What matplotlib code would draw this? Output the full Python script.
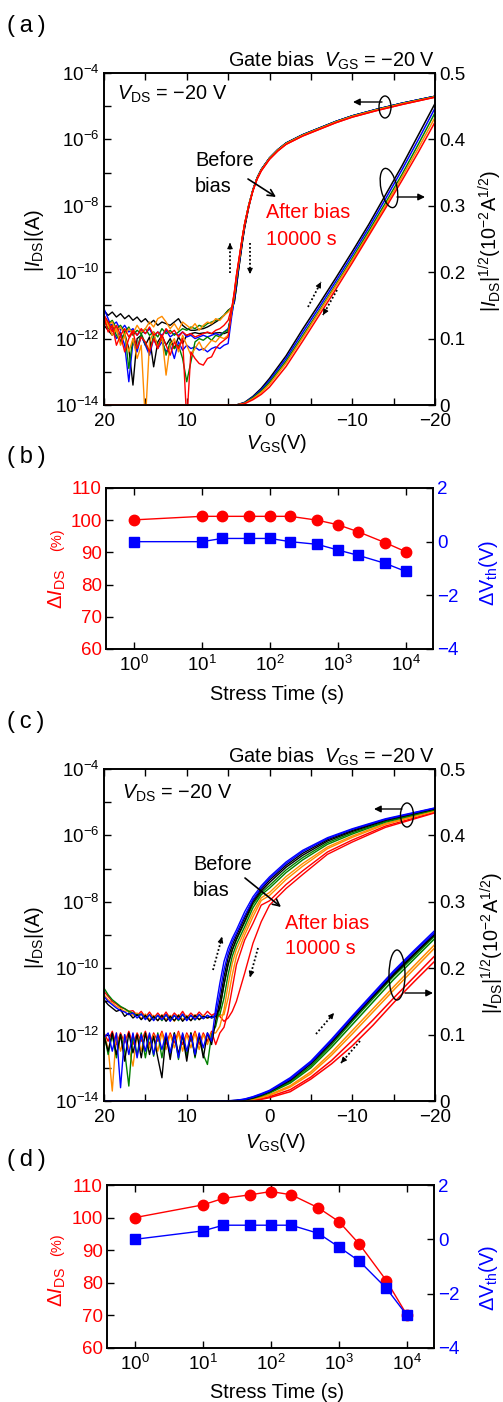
import numpy as np
import matplotlib
matplotlib.use("Agg")
import matplotlib.pyplot as plt
from matplotlib.patches import Ellipse, FancyArrowPatch
from matplotlib.lines import Line2D
from matplotlib.ticker import FixedLocator, NullFormatter, NullLocator, FuncFormatter

plt.rcParams["font.family"] = ["Liberation Sans", "DejaVu Sans"]
plt.rcParams["mathtext.fontset"] = "custom"
plt.rcParams["mathtext.rm"] = "Liberation Sans"
plt.rcParams["mathtext.it"] = "Liberation Sans:italic"
plt.rcParams["mathtext.bf"] = "Liberation Sans:bold"

# ---------------- panel (a): log10 |I_DS| ----------------
vgs_off_a = np.arange(20, 4.9, -0.5)          # 20 ... 5 V, off-state noise
vgs_on_a = [4.5, 4.25, 4, 3.75, 3.5, 3.25, 3, 2.5, 2, 1.5, 1, 0, -1, -2, -4, -6, -8, -10, -13, -16, -20]
vgs_sq_a = [20, 4, 3, 2, 1, 0, -2, -4, -6, -8, -10, -12, -14, -16, -18, -20]

a_off_black_r = [-11.15, -11.3, -11.2, -11.35, -11.25, -11.4, -11.3, -11.45, -11.35, -11.5, -11.4, -11.55, -11.45, -11.6, -11.5, -11.55, -11.6, -11.5, -11.4, -11.6, -11.7, -11.75, -11.75, -11.72, -11.7, -11.65, -11.58, -11.5, -11.42, -11.3, -11.15]
a_off_black_f = [-11.6, -11.75, -11.9, -11.7, -12.1, -11.85, -12.3, -13.4, -12.0, -11.9, -12.2, -11.95, -12.85, -12.1, -11.9, -12.2, -12.0, -12.3, -11.95, -12.15, -11.9, -11.85, -11.82, -11.85, -11.83, -11.82, -11.85, -11.83, -11.82, -11.85, -11.8]
a_off_blue_f = [-11.1, -11.4, -11.7, -12.0, -11.8, -12.2, -13.3, -12.1, -12.4, -11.9, -12.2, -12.5, -12.0, -12.3, -12.1, -12.4, -12.2, -12.6, -12.1, -12.35, -12.2, -12.3, -12.25, -12.35, -12.3, -12.4, -12.3, -12.25, -12.3, -12.2, -12.15]
a_off_blue_r = [-11.3, -11.5, -11.6, -11.5, -11.75, -11.6, -11.8, -11.7, -11.9, -11.75, -11.85, -11.7, -11.95, -11.8, -11.9, -11.75, -11.95, -11.85, -11.9, -11.8, -11.95, -11.9, -12.0, -11.95, -11.9, -11.95, -11.9, -11.85, -11.9, -11.8, -11.7]
a_off_green_f = [-11.45, -11.7, -11.6, -11.9, -12.1, -11.8, -12.9, -12.0, -12.3, -11.85, -12.15, -12.4, -11.9, -12.2, -12.0, -12.5, -12.1, -12.3, -12.2, -12.6, -13.3, -12.7, -12.1, -12.0, -12.05, -11.95, -12.05, -11.9, -11.95, -11.8, -11.75]
a_off_green_r = [-11.35, -11.55, -11.45, -11.7, -11.6, -11.8, -11.65, -11.9, -11.75, -11.85, -11.7, -11.9, -11.8, -11.95, -11.7, -11.85, -11.75, -11.9, -11.8, -11.7, -11.75, -11.65, -11.7, -11.6, -11.65, -11.55, -11.5, -11.45, -11.4, -11.3, -11.15]
a_off_orange_f = [-11.3, -11.6, -11.9, -11.7, -12.2, -11.9, -12.4, -12.0, -12.6, -12.2, -14.5, -12.1, -11.8, -12.3, -11.9, -13.1, -12.2, -12.0, -12.4, -11.9, -12.2, -12.5, -12.3, -12.1, -12.35, -12.2, -12.05, -12.1, -11.95, -12.0, -11.9]
a_off_orange_r = [-11.4, -11.6, -11.5, -11.8, -11.65, -11.9, -11.7, -11.85, -11.6, -11.8, -11.7, -11.5, -11.65, -11.4, -11.33, -11.5, -11.7, -11.55, -11.75, -11.5, -11.6, -11.7, -11.55, -11.75, -11.6, -11.5, -11.55, -11.4, -11.45, -11.3, -11.2]
a_off_red_f = [-11.35, -11.8, -11.6, -12.2, -11.9, -12.4, -12.0, -11.8, -12.3, -11.95, -12.1, -12.4, -12.0, -12.3, -11.9, -12.2, -12.5, -12.1, -12.3, -12.0, -14.5, -12.4, -12.6, -12.75, -12.8, -12.6, -12.55, -12.3, -12.15, -12.05, -11.95]
a_off_red_r = [-11.3, -11.5, -11.8, -11.6, -11.9, -11.7, -11.95, -11.75, -11.9, -11.7, -11.85, -11.65, -11.9, -11.8, -11.95, -11.7, -11.85, -11.75, -11.95, -11.8, -11.9, -11.85, -11.95, -11.9, -11.85, -11.8, -11.85, -11.75, -11.7, -11.6, -11.45]

a_on_black = [-11.05, -10.9, -10.45, -9.95, -9.5, -9.05, -8.65, -8.03, -7.52, -7.16, -6.91, -6.56, -6.31, -6.11, -5.86, -5.66, -5.46, -5.29, -5.09, -4.91, -4.7]
a_on_blue = [-11.2, -10.8, -10.3, -9.85, -9.4, -8.95, -8.56, -7.97, -7.51, -7.16, -6.91, -6.56, -6.31, -6.11, -5.86, -5.66, -5.46, -5.29, -5.09, -4.91, -4.7]
a_on_green = [-11.1, -10.7, -10.2, -9.78, -9.35, -8.92, -8.54, -7.97, -7.52, -7.17, -6.92, -6.57, -6.32, -6.12, -5.87, -5.67, -5.47, -5.3, -5.1, -4.92, -4.71]
a_on_orange = [-11.05, -10.65, -10.15, -9.75, -9.32, -8.9, -8.54, -7.98, -7.53, -7.18, -6.93, -6.58, -6.33, -6.13, -5.88, -5.68, -5.48, -5.31, -5.11, -4.93, -4.72]
a_on_red = [-11.0, -10.6, -10.1, -9.7, -9.3, -8.9, -8.55, -8.0, -7.55, -7.2, -6.95, -6.6, -6.35, -6.15, -5.9, -5.7, -5.5, -5.33, -5.13, -4.95, -4.73]

# |I_DS|^(1/2) in 1e-2 A^(1/2)
a_sq_black = [0, 0, 0.004, 0.013, 0.025, 0.04, 0.074, 0.114, 0.152, 0.191, 0.231, 0.272, 0.316, 0.36, 0.407, 0.454]
a_sq_blue = [0, 0, 0.0035, 0.012, 0.023, 0.037, 0.07, 0.109, 0.147, 0.186, 0.226, 0.267, 0.31, 0.354, 0.4, 0.447]
a_sq_green = [0, 0, 0.003, 0.011, 0.021, 0.034, 0.066, 0.104, 0.142, 0.181, 0.221, 0.262, 0.304, 0.347, 0.393, 0.44]
a_sq_orange = [0, 0, 0.0025, 0.0095, 0.019, 0.031, 0.063, 0.101, 0.14, 0.179, 0.218, 0.258, 0.3, 0.343, 0.387, 0.433]
a_sq_red = [0, 0, 0.002, 0.008, 0.016, 0.027, 0.058, 0.096, 0.135, 0.174, 0.214, 0.255, 0.296, 0.338, 0.381, 0.426]

# ---------------- panel (c) ----------------
vgs_off_c = np.arange(20, 6.9, -0.5)          # 20 ... 7 V
vgs_on_c = [6.5, 6, 5.5, 5, 4.5, 4, 3, 2, 1, 0, -2, -4, -7, -10, -14, -20]
vgs_sq_c = [20, 6, 5, 4, 3, 2, 1, 0, -2.5, -5, -7.5, -10, -12.5, -15, -17.5, -20]

c_off_blue_f = [-12.1, -11.95, -12.5, -11.95, -13.6, -12.0, -12.6, -11.95, -12.7, -12.0, -12.5, -11.95, -12.6, -12.0, -12.45, -11.95, -12.55, -12.0, -12.7, -11.95, -12.5, -12.0, -12.6, -11.95, -12.4, -11.95, -12.2]
c_off_orange_f = [-12.0, -12.4, -13.7, -11.95, -12.5, -12.0, -12.4, -12.95, -12.0, -12.5, -11.95, -12.4, -12.0, -12.5, -11.95, -12.45, -12.0, -12.4, -11.95, -12.5, -12.0, -12.4, -11.95, -12.45, -12.0, -12.3, -11.95]
c_off_green_f = [-11.95, -12.6, -12.0, -12.7, -12.0, -12.5, -13.55, -12.0, -12.6, -11.95, -12.7, -12.0, -12.65, -11.95, -12.7, -12.0, -12.6, -11.95, -12.75, -12.0, -12.65, -11.95, -12.7, -12.0, -12.6, -12.9, -12.0]
c_off_black_f = [-12.05, -12.5, -11.95, -12.6, -12.0, -12.8, -11.95, -12.55, -12.0, -12.7, -11.95, -12.6, -12.05, -12.7, -13.3, -12.0, -12.75, -11.95, -12.6, -12.0, -12.8, -11.95, -12.65, -12.0, -12.7, -11.95, -12.3]
c_off_red_f = [-11.95, -12.2, -11.9, -12.3, -11.95, -12.25, -11.9, -12.3, -11.95, -12.2, -11.9, -12.3, -11.95, -12.2, -11.9, -12.3, -11.95, -12.25, -11.9, -12.3, -11.95, -12.2, -11.9, -12.3, -11.95, -12.2, -11.9]
c_off_blue_r = [-10.85, -11.0, -11.1, -11.2, -11.28, -11.32, -11.4, -11.35, -11.5, -11.38, -11.55, -11.4, -11.58, -11.42, -11.55, -11.4, -11.6, -11.42, -11.55, -11.38, -11.58, -11.42, -11.55, -11.4, -11.52, -11.42, -11.5]
c_off_black_r = [-10.95, -11.1, -11.2, -11.3, -11.25, -11.45, -11.35, -11.5, -11.4, -11.55, -11.42, -11.6, -11.45, -11.58, -11.42, -11.6, -11.45, -11.58, -11.42, -11.6, -11.45, -11.58, -11.42, -11.55, -11.45, -11.5, -11.45]
c_off_green_r = [-10.6, -10.8, -10.95, -11.05, -11.15, -11.22, -11.3, -11.35, -11.42, -11.38, -11.52, -11.4, -11.55, -11.42, -11.58, -11.4, -11.55, -11.42, -11.58, -11.4, -11.55, -11.42, -11.56, -11.4, -11.52, -11.42, -11.5]
c_off_orange_r = [-10.8, -10.95, -11.05, -11.15, -11.22, -11.3, -11.28, -11.42, -11.35, -11.52, -11.38, -11.55, -11.42, -11.58, -11.4, -11.55, -11.42, -11.6, -11.4, -11.55, -11.42, -11.58, -11.4, -11.55, -11.42, -11.5, -11.45]
c_off_red_r = [-10.7, -10.85, -11.0, -11.08, -11.18, -11.22, -11.3, -11.28, -11.42, -11.3, -11.48, -11.32, -11.5, -11.35, -11.5, -11.32, -11.52, -11.35, -11.48, -11.3, -11.5, -11.35, -11.48, -11.32, -11.45, -11.3, -11.42]

c_on_blue_f = [-11.2, -10.45, -9.8, -9.4, -9.1, -8.85, -8.3, -7.85, -7.52, -7.25, -6.8, -6.45, -6.07, -5.8, -5.5, -5.17]
c_on_blue_r = [-11.4, -10.75, -10.05, -9.55, -9.2, -8.95, -8.42, -7.93, -7.58, -7.3, -6.85, -6.49, -6.1, -5.82, -5.52, -5.18]
c_on_black_f = [-11.58, -10.98, -10.26, -9.68, -9.31, -9.02, -8.48, -7.96, -7.62, -7.35, -6.9, -6.54, -6.13, -5.85, -5.53, -5.19]
c_on_black_r = [-11.45, -11.2, -10.5, -9.9, -9.45, -9.12, -8.58, -8.02, -7.68, -7.42, -6.96, -6.6, -6.17, -5.88, -5.55, -5.2]
c_on_green_f = [-11.75, -11.2, -10.5, -9.85, -9.45, -9.15, -8.62, -8.08, -7.73, -7.51, -7.04, -6.67, -6.22, -5.92, -5.58, -5.22]
c_on_green_r = [-11.45, -11.4, -10.9, -10.19, -9.64, -9.28, -8.75, -8.18, -7.79, -7.59, -7.12, -6.74, -6.27, -5.96, -5.6, -5.23]
c_on_orange_f = [-11.95, -11.75, -11.25, -10.5, -9.85, -9.43, -8.87, -8.32, -7.88, -7.72, -7.24, -6.85, -6.35, -6.02, -5.64, -5.25]
c_on_orange_r = [-11.5, -11.42, -11.4, -10.9, -10.2, -9.64, -9.0, -8.45, -7.96, -7.81, -7.33, -6.93, -6.4, -6.06, -5.67, -5.27]
c_on_red_f = [-12.3, -11.95, -11.78, -11.3, -10.6, -9.9, -9.15, -8.65, -8.1, -7.97, -7.48, -7.07, -6.5, -6.14, -5.72, -5.3]
c_on_red_r = [-11.35, -11.45, -11.6, -11.5, -11.3, -11.0, -10.15, -9.25, -8.6, -8.1, -7.6, -7.18, -6.57, -6.2, -5.76, -5.32]

c_sq_blue_f = [0, 0, 0.0003, 0.001, 0.003, 0.0065, 0.011, 0.016, 0.035, 0.06, 0.093, 0.128, 0.162, 0.196, 0.227, 0.257]
c_sq_blue_r = [0, 0, 0.0002, 0.0008, 0.0025, 0.0058, 0.010, 0.015, 0.033, 0.058, 0.091, 0.126, 0.16, 0.194, 0.225, 0.254]
c_sq_black_f = [0, 0, 0.0001, 0.0007, 0.0022, 0.0052, 0.0095, 0.0145, 0.032, 0.057, 0.089, 0.124, 0.158, 0.192, 0.222, 0.252]
c_sq_black_r = [0, 0, 0.0001, 0.0006, 0.002, 0.0048, 0.009, 0.014, 0.031, 0.056, 0.088, 0.123, 0.157, 0.19, 0.221, 0.251]
c_sq_green_f = [0, 0, 0, 0.0005, 0.0018, 0.0045, 0.0085, 0.013, 0.029, 0.053, 0.085, 0.12, 0.154, 0.188, 0.218, 0.249]
c_sq_green_r = [0, 0, 0, 0.0004, 0.0015, 0.004, 0.0075, 0.012, 0.027, 0.05, 0.081, 0.115, 0.149, 0.183, 0.214, 0.245]
c_sq_orange_f = [0, 0, 0, 0.0002, 0.001, 0.003, 0.006, 0.0095, 0.023, 0.044, 0.073, 0.106, 0.139, 0.172, 0.204, 0.236]
c_sq_orange_r = [0, 0, 0, 0.0001, 0.0008, 0.0025, 0.005, 0.0085, 0.021, 0.041, 0.069, 0.101, 0.134, 0.167, 0.199, 0.231]
c_sq_red_f = [0, 0, 0, 0, 0.0004, 0.0015, 0.0035, 0.0065, 0.017, 0.036, 0.061, 0.091, 0.122, 0.155, 0.187, 0.219]
c_sq_red_r = [0, 0, 0, 0, 0.0002, 0.001, 0.0025, 0.005, 0.014, 0.033, 0.056, 0.083, 0.114, 0.148, 0.18, 0.211]

# ---------------- panels (b), (d) ----------------
stress_time = [1, 10, 20, 50, 100, 200, 500, 1000, 2000, 5000, 10000]
b_dids = [100.1, 101.2, 101.2, 101.2, 101.2, 101.2, 100.0, 98.6, 96.4, 93.0, 90.2]
b_dvth = [0.0, 0.0, 0.12, 0.12, 0.12, 0.0, -0.1, -0.31, -0.51, -0.81, -1.11]
d_dids = [100.0, 103.9, 105.9, 107.0, 108.0, 107.0, 103.0, 98.8, 91.9, 80.7, 70.2]
d_dvth = [0.0, 0.31, 0.52, 0.52, 0.52, 0.52, 0.22, -0.28, -0.80, -1.80, -2.79]

BLACK, BLUE, GREEN, ORANGE, RED = "#000000", "#0000ff", "#008000", "#ff8c00", "#ff0000"

W, H = 503, 1402
fig = plt.figure(figsize=(W / 100, H / 100), dpi=100)
FS = 13.5      # tick labels
FT = 14.3      # annotations and axis titles


def frac(x, y):
    return (x / W, 1 - y / H)


def axes_px(left, top, right, bottom):
    return fig.add_axes([left / W, 1 - bottom / H, (right - left) / W, (bottom - top) / H])


def label(x, y, s, **kw):
    kw.setdefault("fontsize", FT)
    fig.text(x / W, 1 - y / H, s, **kw)


def arrow(p0, p1, style="-|>", ms=10, lw=1.0):
    fig.add_artist(FancyArrowPatch(frac(*p0), frac(*p1), transform=fig.transFigure,
                                   arrowstyle=style, mutation_scale=ms, lw=lw, color="k",
                                   shrinkA=0, shrinkB=0))


def dotted_arrow(p0, p1):
    (x0, y0), (x1, y1) = p0, p1
    fig.add_artist(Line2D([x0 / W, x1 / W], [1 - y0 / H, 1 - y1 / H], transform=fig.transFigure,
                          color="k", lw=1.3, ls=(0, (1, 1.2))))
    arrow((x0 + 0.8 * (x1 - x0), y0 + 0.8 * (y1 - y0)), (x1, y1), ms=8, lw=0.8)


def ring(x, y, w, h, angle=0):
    fig.add_artist(Ellipse((x / 100, (H - y) / 100), w / 100, h / 100, angle=angle,
                           transform=fig.dpi_scale_trans, fill=False, lw=1.0, ec="k"))


def draw_transfer(ax, off_v, on_v, sq_v, log_curves, sq_curves):
    ax2 = ax.twinx()
    v = np.concatenate([off_v, on_v])
    for color, off, on in log_curves:
        ax.plot(v, 10.0 ** np.concatenate([off, on]), color=color, lw=1.0)
    for color, sq in sq_curves:
        ax2.plot(sq_v, sq, color=color, lw=1.1)
    ax.set_yscale("log")
    ax.set_ylim(1e-14, 1e-4)
    ax.set_xlim(20, -20)
    ax.yaxis.set_major_locator(FixedLocator([10.0 ** e for e in range(-14, -3, 2)]))
    ax.yaxis.set_major_formatter(FuncFormatter(lambda val, p: r"$10^{%d}$" % round(np.log10(val))))
    ax.yaxis.set_minor_locator(FixedLocator([10.0 ** e for e in range(-13, -4, 2)]))
    ax.yaxis.set_minor_formatter(NullFormatter())
    ax.set_xticks([20, 10, 0, -10, -20])
    ax.set_xticklabels(["20", "10", "0", "\u221210", "\u221220"])
    ax.set_xticks([15, 5, -5, -15], minor=True)
    ax.tick_params(which="both", direction="in", top=True, length=5, width=1, labelsize=FS)
    ax.tick_params(axis="y", pad=3)
    ax.tick_params(axis="x", pad=6)
    ax2.set_ylim(0, 0.5)
    ax2.set_yticks([0, 0.1, 0.2, 0.3, 0.4, 0.5])
    ax2.set_yticklabels(["0", "0.1", "0.2", "0.3", "0.4", "0.5"])
    ax2.tick_params(direction="in", length=5, width=1, labelsize=FS, pad=3)
    for a in (ax, ax2):
        for sp in a.spines.values():
            sp.set_linewidth(1.2)
    return ax2


def draw_stress(ax, dids, dvth):
    ax2 = ax.twinx()
    ax.plot(stress_time, dids, "-o", color=RED, ms=7.5, lw=1.0)
    ax2.plot(stress_time, dvth, "-s", color=BLUE, ms=6.5, lw=1.0)
    ax.set_xscale("log")
    ax.set_xlim(10 ** -0.41, 10 ** 4.4)
    ax.set_xticks([1, 10, 100, 1000, 10000])
    ax.set_xticklabels([r"$10^{%d}$" % k for k in range(5)])
    ax.xaxis.set_minor_locator(NullLocator())
    ax.set_ylim(60, 110)
    ax.set_yticks([60, 70, 80, 90, 100, 110])
    ax2.set_ylim(-4, 2)
    ax2.set_yticks([-4, -2, 0, 2])
    ax2.set_yticklabels(["\u22124", "\u22122", "0", "2"])
    ax.tick_params(which="both", direction="in", top=True, length=5, width=1, labelsize=FS)
    ax.tick_params(axis="y", labelcolor=RED, pad=3)
    ax.tick_params(axis="x", pad=4)
    ax2.tick_params(direction="in", length=5, width=1, labelsize=FS, labelcolor=BLUE, pad=3)
    for a in (ax, ax2):
        for sp in a.spines.values():
            sp.set_linewidth(1.2)
    return ax2


PANEL = dict(fontsize=17, va="center")

# ---------------- (a) ----------------
ax_a = axes_px(104, 73, 435, 405)
draw_transfer(
    ax_a, vgs_off_a, vgs_on_a, vgs_sq_a,
    [(BLACK, a_off_black_f, a_on_black), (BLACK, a_off_black_r, a_on_black),
     (BLUE, a_off_blue_f, a_on_blue), (BLUE, a_off_blue_r, a_on_blue),
     (GREEN, a_off_green_f, a_on_green), (GREEN, a_off_green_r, a_on_green),
     (ORANGE, a_off_orange_f, a_on_orange), (ORANGE, a_off_orange_r, a_on_orange),
     (RED, a_off_red_f, a_on_red), (RED, a_off_red_r, a_on_red)],
    [(BLACK, a_sq_black), (BLUE, a_sq_blue), (GREEN, a_sq_green),
     (ORANGE, a_sq_orange), (RED, a_sq_red)])

label(7, 26, "(\u2009a\u2009)", **PANEL)
label(435, 67, r"Gate bias  $\mathit{V}_{\mathrm{GS}}$ = $-$20 V", ha="right", va="baseline")
label(117, 100, r"$\mathit{V}_{\mathrm{DS}}$ = $-$20 V", va="baseline")
label(195, 166, "Before", va="baseline")
label(195, 192, "bias", va="baseline")
label(266, 218, "After bias", color=RED, va="baseline")
label(266, 245, "10000 s", color=RED, va="baseline")
arrow((248, 179), (276, 197), style="->", ms=12, lw=1.2)
ring(385, 107, 12, 22)
arrow((382, 102), (353, 102))
ring(389, 188, 16, 40, angle=12)
arrow((397, 197), (425, 197))
dotted_arrow((230, 273), (230, 243))
dotted_arrow((250, 243), (250, 274))
dotted_arrow((308, 307), (321, 282))
dotted_arrow((337, 290), (323, 315))
label(35, 240, r"$|\mathit{I}_{\mathrm{DS}}|$(A)", rotation=90, ha="center", va="center")
label(490, 241, r"$|\mathit{I}_{\mathrm{DS}}|^{1/2}(10^{-2}\mathrm{A}^{1/2})$", rotation=90, ha="center", va="center")
label(277, 444, r"$\mathit{V}_{\mathrm{GS}}$(V)", ha="center", va="center")

# ---------------- (b) ----------------
ax_b = axes_px(106, 488, 433, 649)
draw_stress(ax_b, b_dids, b_dvth)
label(7, 457, "(\u2009b\u2009)", **PANEL)
label(57, 540, "(%)", color=RED, rotation=90, ha="center", va="center", fontsize=10.5)
label(57, 589, r"$\Delta\mathit{I}_{\mathrm{DS}}$", color=RED, rotation=90, ha="center", va="center", fontsize=14.5)
label(489, 573, r"$\Delta\mathrm{V}_{\mathrm{th}}$(V)", color=BLUE, rotation=90, ha="center", va="center")
label(277, 695, "Stress Time (s)", ha="center", va="center")

# ---------------- (c) ----------------
ax_c = axes_px(104, 769, 435, 1101)
draw_transfer(
    ax_c, vgs_off_c, vgs_on_c, vgs_sq_c,
    [(RED, c_off_red_r, c_on_red_r), (RED, c_off_red_f, c_on_red_f),
     (ORANGE, c_off_orange_r, c_on_orange_r), (ORANGE, c_off_orange_f, c_on_orange_f),
     (GREEN, c_off_green_r, c_on_green_r), (GREEN, c_off_green_f, c_on_green_f),
     (BLACK, c_off_black_r, c_on_black_r), (BLACK, c_off_black_f, c_on_black_f),
     (BLUE, c_off_blue_r, c_on_blue_r), (BLUE, c_off_blue_f, c_on_blue_f)],
    [(RED, c_sq_red_r), (RED, c_sq_red_f), (ORANGE, c_sq_orange_r), (ORANGE, c_sq_orange_f),
     (GREEN, c_sq_green_r), (GREEN, c_sq_green_f), (BLACK, c_sq_black_r), (BLACK, c_sq_black_f),
     (BLUE, c_sq_blue_r), (BLUE, c_sq_blue_f)])

label(7, 722, "(\u2009c\u2009)", **PANEL)
label(435, 763, r"Gate bias  $\mathit{V}_{\mathrm{GS}}$ = $-$20 V", ha="right", va="baseline")
label(122, 799, r"$\mathit{V}_{\mathrm{DS}}$ = $-$20 V", va="baseline")
label(193, 870, "Before", va="baseline")
label(193, 896, "bias", va="baseline")
label(285, 929, "After bias", color=RED, va="baseline")
label(285, 954, "10000 s", color=RED, va="baseline")
arrow((245, 878), (281, 907), style="->", ms=12, lw=1.2)
ring(407, 815, 13, 24)
arrow((402, 809), (374, 809))
ring(397, 975, 16, 50)
arrow((405, 993), (433, 993))
dotted_arrow((213, 970), (222, 937))
dotted_arrow((258, 948), (250, 977))
dotted_arrow((316, 1034), (334, 1013))
dotted_arrow((360, 1041), (341, 1063))
label(35, 937, r"$|\mathit{I}_{\mathrm{DS}}|$(A)", rotation=90, ha="center", va="center")
label(492, 943, r"$|\mathit{I}_{\mathrm{DS}}|^{1/2}(10^{-2}\mathrm{A}^{1/2})$", rotation=90, ha="center", va="center")
label(276, 1143, r"$\mathit{V}_{\mathrm{GS}}$(V)", ha="center", va="center")

# ---------------- (d) ----------------
ax_d = axes_px(107, 1185, 434, 1348)
draw_stress(ax_d, d_dids, d_dvth)
label(7, 1160, "(\u2009d\u2009)", **PANEL)
label(57, 1245, "(%)", color=RED, rotation=90, ha="center", va="center", fontsize=10.5)
label(57, 1287, r"$\Delta\mathit{I}_{\mathrm{DS}}$", color=RED, rotation=90, ha="center", va="center", fontsize=14.5)
label(489, 1278, r"$\Delta\mathrm{V}_{\mathrm{th}}$(V)", color=BLUE, rotation=90, ha="center", va="center")
label(277, 1393, "Stress Time (s)", ha="center", va="center")

fig.savefig("out.png", dpi=100)
